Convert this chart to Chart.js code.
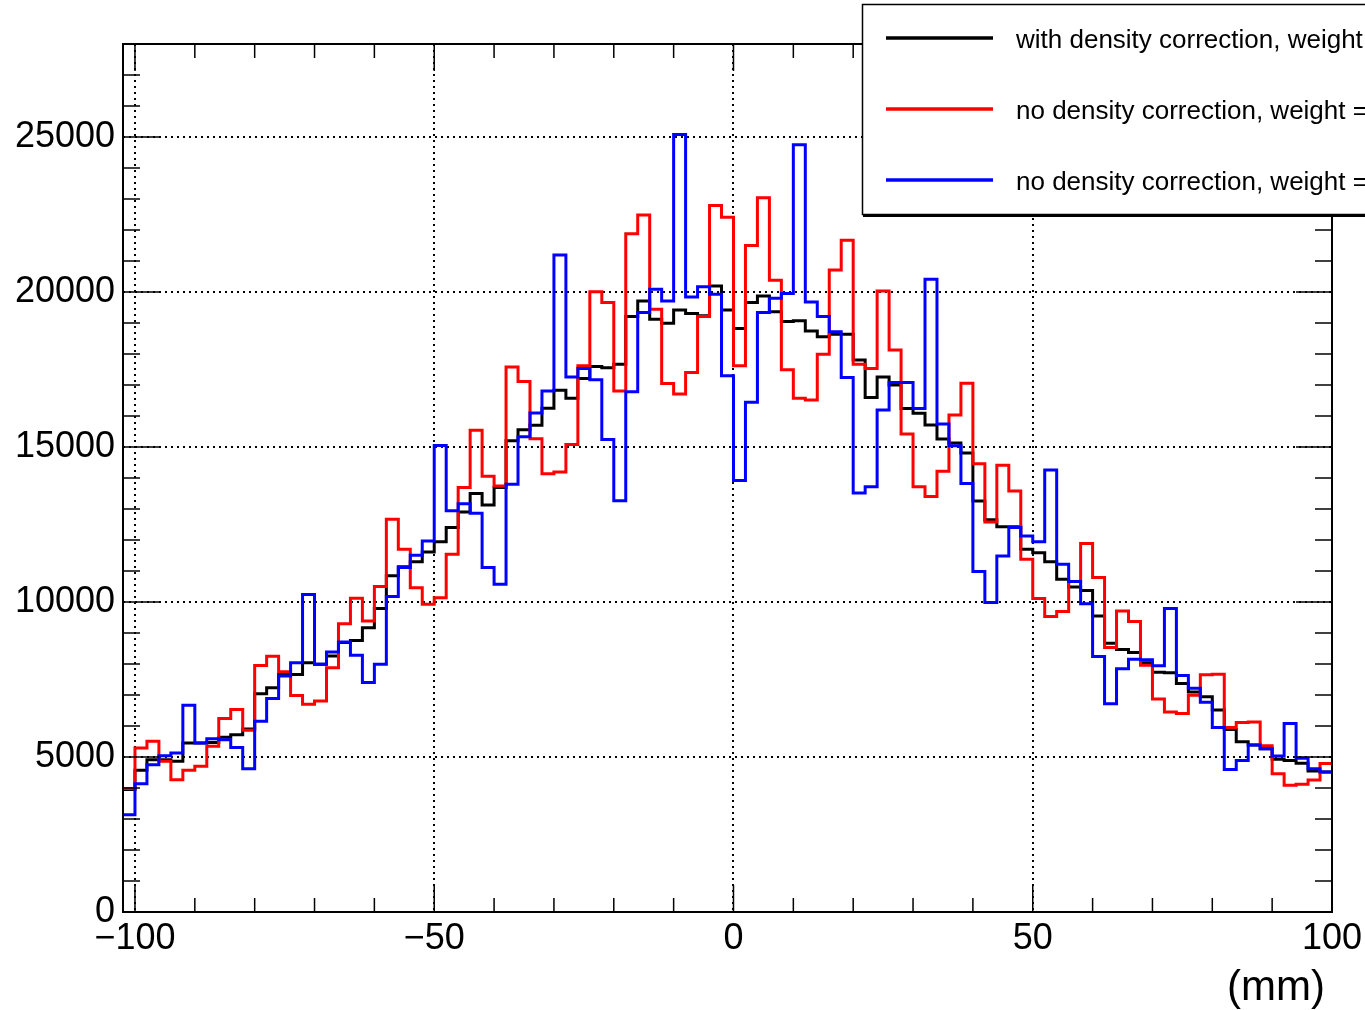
<!DOCTYPE html>
<html>
<head>
<meta charset="utf-8">
<script src="https://cdn.jsdelivr.net/npm/chart.js@4.4.1/dist/chart.umd.min.js"></script>
<style>
  html, body { margin: 0; padding: 0; background: #fff; }
</style>
</head>
<body>
<canvas id="profile" width="1365" height="1010"></canvas>
<script>
/************** data ****************/
// histogram binning, mm
const xMin = -102;
const xMax = 100;
const binWidth = 2;
const yMax = 28000;

const xTicks = [-100, -50, 0, 50, 100];
const yTicks = [0, 5000, 10000, 15000, 20000, 25000];

const legendLabels = [
    "with density correction, weight",
    "no density correction, weight =",
    "no density correction, weight ="
];

// black
const withCorrection = [
    3950, 4570, 4910, 4910, 4860, 5450, 5450, 5470, 5640, 5720,
    5900, 7040, 7230, 7660, 7660, 8040, 7990, 8260, 8690, 8760,
    9170, 9790, 10850, 11140, 11300, 11610, 11940, 12400, 12900, 13500,
    13130, 13690, 15200, 15560, 15700, 16250, 16830, 16570, 17210, 17600,
    17560, 17670, 19210, 19710, 19120, 18990, 19420, 19310, 19230, 20190,
    19420, 18820, 19660, 19870, 19360, 19050, 19070, 18740, 18560, 18640,
    18640, 17810, 16600, 17260, 17000, 16240, 16090, 15710, 15260, 15130,
    14810, 13260, 12650, 12430, 12430, 11700, 11590, 11300, 10730, 10480,
    10370, 9550, 8670, 8470, 8370, 8040, 7730, 7720, 7370, 7100,
    6940, 6520, 5890, 5490, 5390, 5270, 4930, 4890, 4800, 4550,
    4520
];

// red
const noCorrectionA = [
    3980, 5290, 5510, 4860, 4270, 4570, 4700, 5350, 6240, 6530,
    5860, 7950, 8250, 7750, 6980, 6700, 6810, 7880, 9300, 10120,
    9390, 10500, 12670, 11700, 10460, 9930, 10140, 11540, 13690, 15540,
    14060, 13740, 17580, 17110, 15270, 14140, 14190, 15080, 17620, 20010,
    19660, 16810, 21880, 22480, 19440, 17050, 16710, 17400, 19210, 22790,
    22410, 17620, 21500, 23040, 20380, 17490, 16570, 16520, 17990, 20710,
    21670, 17670, 17530, 20030, 18130, 15420, 13720, 13400, 14220, 16030,
    17060, 14460, 12580, 14410, 13580, 11380, 10110, 9530, 9690, 10660,
    11890, 10790, 8530, 9710, 9370, 7960, 6870, 6450, 6400, 6990,
    7650, 7670, 5950, 6110, 6130, 5360, 4460, 4090, 4120, 4260,
    4790
];

// blue
const noCorrectionB = [
    3140, 4140, 4750, 5040, 5130, 6670, 5450, 5590, 5560, 5310,
    4620, 6150, 6890, 7610, 8040, 10240, 7990, 8390, 8710, 8280,
    7400, 7990, 10180, 11110, 11510, 11970, 15050, 12940, 13170, 12860,
    11110, 10570, 13800, 15330, 16100, 16810, 21190, 17260, 17530, 17170,
    15240, 13270, 16780, 19340, 20090, 19710, 25080, 19840, 20170, 19930,
    17300, 13920, 16440, 19340, 19800, 19950, 24750, 19680, 19210, 18720,
    17240, 13520, 13720, 16190, 17080, 17080, 16240, 20410, 15740, 15040,
    13820, 10980, 9980, 11480, 12400, 12130, 11940, 14260, 11220, 10660,
    9940, 8240, 6720, 7850, 8150, 8140, 7940, 9790, 7630, 7220,
    6770, 5950, 4600, 4890, 5390, 5270, 5030, 6080, 4960, 4620,
    4520
];

const colors = ["#000000", "#ff0000", "#0000ff"];
const FONT = "'Liberation Sans', Arial, Helvetica, sans-serif";

/************** helpers ****************/
// left bin edges + closing point so the step line covers the last bin
function toSteps(values) {
    const pts = values.map((v, i) => ({ x: xMin + i * binWidth, y: v }));
    pts.push({ x: xMax, y: values[values.length - 1] });
    return pts;
}

function fmt(v) {
    return v < 0 ? "\u2212" + Math.abs(v) : String(v);
}

function line(ctx, x1, y1, x2, y2) {
    ctx.beginPath();
    ctx.moveTo(x1, y1);
    ctx.lineTo(x2, y2);
    ctx.stroke();
}

/************** ROOT-like frame, ticks, legend ****************/
const rootFrame = {
    id: "rootFrame",
    beforeDatasetsDraw(chart) {
        const { ctx, chartArea: a, scales: { x, y } } = chart;
        ctx.save();
        ctx.strokeStyle = "#000";
        ctx.lineWidth = 2;
        ctx.setLineDash([2, 4]);
        xTicks.forEach(v => {
            const px = Math.round(x.getPixelForValue(v));
            if (px > a.left + 2 && px < a.right - 2) line(ctx, px, a.top, px, a.bottom);
        });
        yTicks.forEach(v => {
            const py = Math.round(y.getPixelForValue(v));
            if (py > a.top + 2 && py < a.bottom - 2) line(ctx, a.left, py, a.right, py);
        });
        ctx.restore();
    },
    afterDatasetsDraw(chart) {
        const { ctx, chartArea: a, scales: { x, y } } = chart;
        ctx.save();
        ctx.strokeStyle = "#000";
        ctx.lineWidth = 1.5;
        // x ticks, inside, bottom and top
        for (let v = -100; v <= 100; v += 10) {
            const px = x.getPixelForValue(v);
            const len = xTicks.includes(v) ? 27 : 14;
            line(ctx, px, a.bottom, px, a.bottom - len);
            line(ctx, px, a.top, px, a.top + len);
        }
        // y ticks, inside, left and right
        for (let v = 0; v <= yMax; v += 1000) {
            const py = y.getPixelForValue(v);
            const len = yTicks.includes(v) ? 36 : 17;
            line(ctx, a.left, py, a.left + len, py);
            line(ctx, a.right, py, a.right - len, py);
        }
        ctx.lineWidth = 2;
        ctx.strokeRect(a.left, a.top, a.right - a.left, a.bottom - a.top);
        ctx.restore();
    },
    afterDraw(chart) {
        const { ctx } = chart;
        ctx.save();
        // legend box (runs off the right edge like the original)
        ctx.fillStyle = "#fff";
        ctx.fillRect(862, 4, 520, 211);
        ctx.strokeStyle = "#000";
        ctx.lineWidth = 1.5;
        ctx.strokeRect(862.5, 4.5, 520, 210);
        ctx.lineWidth = 2;
        line(ctx, 863, 216, 1380, 216);

        ctx.font = "26px " + FONT;
        ctx.textBaseline = "alphabetic";
        ctx.fillStyle = "#000";
        legendLabels.forEach((label, i) => {
            const ly = 38 + i * 71;
            ctx.strokeStyle = colors[i];
            ctx.lineWidth = 3.5;
            line(ctx, 886, ly, 993, ly);
            ctx.fillText(label, 1016, ly + 10);
        });

        // axis title
        ctx.font = "42px " + FONT;
        ctx.textAlign = "right";
        ctx.textBaseline = "alphabetic";
        ctx.fillText("(mm)", 1325, 1000);
        ctx.restore();
    }
};

/************** chart ****************/
const datasets = [withCorrection, noCorrectionA, noCorrectionB].map((values, i) => ({
    label: legendLabels[i],
    data: toSteps(values),
    borderColor: colors[i],
    backgroundColor: colors[i],
    borderWidth: 3,
    pointRadius: 0,
    stepped: true,
    fill: false,
    order: 3 - i
}));

const tickFont = { family: FONT, size: 36 };

new Chart(document.getElementById("profile"), {
    type: "line",
    data: { datasets: datasets },
    options: {
        responsive: false,
        animation: false,
        layout: { padding: { top: 44, right: 33, left: 0, bottom: 0 } },
        plugins: {
            legend: { display: false },
            tooltip: { enabled: false }
        },
        scales: {
            x: {
                type: "linear",
                min: xMin,
                max: xMax,
                grid: { display: false, drawTicks: false },
                border: { display: false },
                afterBuildTicks: s => { s.ticks = xTicks.map(v => ({ value: v })); },
                afterFit: s => {
                    s.height = 98;
                    s.paddingLeft = 0;
                    s.paddingRight = 0;
                },
                ticks: {
                    font: tickFont,
                    color: "#000",
                    padding: 5,
                    maxRotation: 0,
                    autoSkip: false,
                    callback: v => fmt(v)
                }
            },
            y: {
                type: "linear",
                min: 0,
                max: yMax,
                grid: { display: false, drawTicks: false },
                border: { display: false },
                afterBuildTicks: s => { s.ticks = yTicks.map(v => ({ value: v })); },
                afterFit: s => { s.width = 123; },
                ticks: {
                    font: tickFont,
                    color: "#000",
                    padding: 8,
                    autoSkip: false,
                    callback: v => fmt(v)
                }
            }
        }
    },
    plugins: [rootFrame]
});
</script>
</body>
</html>
